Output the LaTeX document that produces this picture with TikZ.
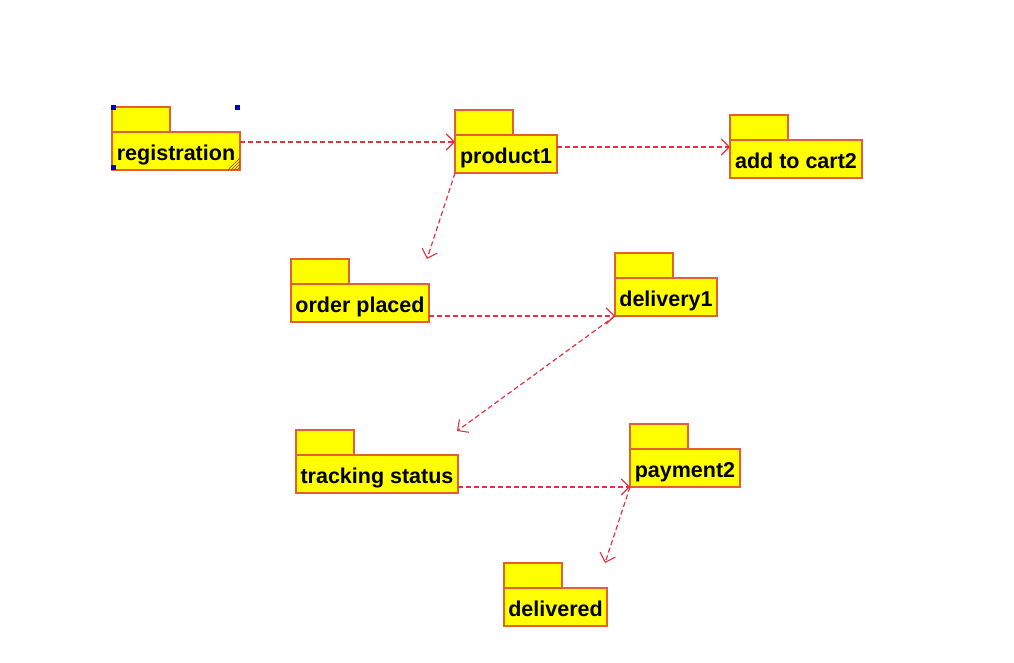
\documentclass[tikz,border=0pt]{standalone}
\usepackage{fontspec}
\setmainfont{Liberation Sans}
\usetikzlibrary{arrows.meta,calc}
\definecolor{pkgfill}{RGB}{255,255,0}
\definecolor{pkgline}{RGB}{228,96,48}
\definecolor{deparrow}{RGB}{226,50,66}
\definecolor{handle}{RGB}{0,0,200}
\tikzset{
  pkgbody/.style={draw=pkgline, fill=pkgfill, line width=1.5pt, anchor=north west,
    minimum height=38pt, inner sep=0pt, outer sep=0pt, text depth=0pt,
    font=\fontsize{21.5}{24}\selectfont\bfseries},
  pkgtab/.style={draw=pkgline, fill=pkgfill, line width=1.5pt},
  dep/.style={draw=deparrow, line width=1.2pt, dash pattern=on 5pt off 3pt,
    -{Straight Barb[length=8pt,width=16pt,line width=1.1pt]}},
}
% \pkg{name}{x}{y}{width}{label}  (x,y = top-left of tab, y down)
\newcommand{\pkg}[5]{%
  \path[pkgtab] (#2,#3) rectangle ++(58,25);
  \node[pkgbody, minimum width=#4pt] (#1) at (#2,#3+25) {\raisebox{-4pt}{#5}};
}
\begin{document}
\begin{tikzpicture}[x=1pt,y=-1pt]
\useasboundingbox (0,0) rectangle (1014,663);
\pkg{reg}{112}{107}{128}{registration}
\pkg{prod}{455}{110}{102}{product1}
\pkg{cart}{730}{115}{132}{add to cart2}
\pkg{order}{291}{259}{138}{order placed}
\pkg{deliv}{615}{253}{102}{delivery1}
\pkg{track}{296}{430}{162}{tracking status}
\pkg{pay}{630}{424}{110}{payment2}
\pkg{delv}{504}{563}{103}{delivered}
% resize hatch on selected package
\foreach \d in {3,6,9,12}
  \draw[pkgline!60!black, line width=0.7pt] ($(reg.south east)+(-\d,0)$) -- ($(reg.south east)+(0,-\d)$);
% selection handles
\foreach \p in {(113,108),(237,108),(113,168)}
  \fill[handle] \p ++(-2.5,-2.5) rectangle ++(5,5);
% dependencies
\draw[dep] ($(reg.north east)+(0,10)$) -- ($(prod.north west)+(0,7)$);
\draw[dep] ($(prod.north east)+(0,12)$) -- ($(cart.north west)+(0,7)$);
\draw[dep] (prod.south west) -- ($(order.north west)+(136,-25)$);
\draw[dep] ($(order.south east)+(0,-6)$) -- (deliv.south west);
\draw[dep] (deliv.south west) -- ($(track.north east)+(-1,-24)$);
\draw[dep] ($(track.south east)+(0,-6)$) -- (pay.south west);
\draw[dep] (pay.south west) -- ($(delv.north east)+(-2,-25)$);
\end{tikzpicture}
\end{document}
